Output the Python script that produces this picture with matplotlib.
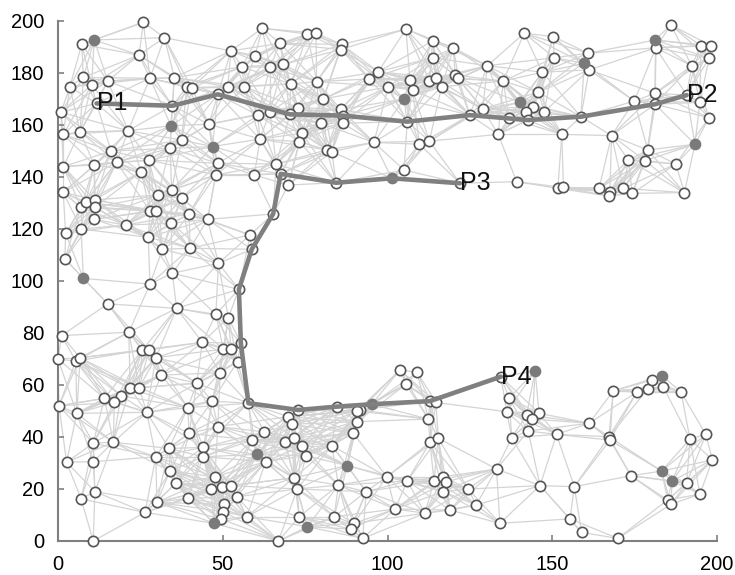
import numpy as np
import matplotlib.pyplot as plt
from matplotlib.collections import LineCollection

plt.rcParams['font.family'] = ['Liberation Sans', 'DejaVu Sans']

# ordinary sensor nodes (x, y)
nodes = [
    (25.9,199.5),(7.2,191.0),(32.3,193.6),(24.6,186.9),(7.7,178.3),(3.6,174.7),(10.2,175.4),(15.1,176.9),
    (27.9,178.0),(35.3,178.2),(39.1,174.7),(40.6,174.3),(11.7,168.3),(34.7,167.4),(48.5,171.8),(51.5,174.7),
    (56.5,174.7),(52.5,188.5),(59.8,186.7),(62.0,197.2),(55.9,182.4),(0.9,164.9),(1.6,156.4),(6.7,157.4),
    (21.3,157.8),(45.8,160.3),(60.6,163.8),(37.5,154.2),(34.0,151.0),(16.1,150.0),(61.3,154.6),
    (75.7,195.0),(78.3,195.3),(67.4,191.4),(86.1,191.0),(85.8,189.0),(105.6,196.9),(113.7,192.3),(120.0,189.7),
    (113.7,185.9),(130.3,182.8),(64.3,182.2),(68.4,183.3),(70.6,175.8),(78.5,176.7),(80.5,170.0),(97.2,180.5),
    (94.5,177.7),(100.2,174.7),(106.8,177.3),(107.6,173.5),(112.7,176.9),(114.7,178.2),(116.4,174.7),(120.5,179.2),
    (121.5,178.0),(128.9,166.2),(125.0,163.8),(72.9,166.7),(64.3,165.1),(70.4,164.1),(85.8,166.0),(86.4,163.6),
    (86.4,160.7),(79.7,160.7),(106.0,161.3),(74.0,156.8),(73.2,153.6),(95.9,153.3),(109.7,152.6),(112.7,153.8),
    (81.5,150.4),(83.1,149.7),
    (141.5,195.3),(150.3,194.0),(186.0,198.5),(181.4,189.7),(195.1,190.5),(198.2,190.5),(197.6,185.7),(192.3,182.8),
    (150.6,185.9),(160.9,187.6),(161.2,181.2),(135.1,176.9),(147.0,180.3),(145.8,172.6),(144.3,167.0),(141.9,165.1),
    (147.6,165.1),(136.9,162.6),(142.7,161.9),(158.7,163.2),(174.9,169.2),(181.2,172.2),(181.2,168.0),(190.8,171.5),
    (194.8,168.7),(197.6,162.8),(133.6,156.4),(152.9,156.4),(168.0,155.9),(179.0,150.4),
    (1.6,144.0),(11.0,144.6),(17.8,145.7),(27.6,146.5),(25.2,142.0),(48.5,145.3),(47.9,140.8),(59.6,140.8),
    (1.6,134.1),(7.0,128.3),(8.4,130.3),(11.2,131.2),(11.2,128.3),(11.0,123.7),(30.3,133.1),(34.5,135.0),
    (37.5,131.8),(27.9,127.0),(29.6,127.0),(39.8,125.8),(34.3,122.2),(45.4,123.7),(20.5,121.5),(2.3,118.3),
    (7.0,120.0),(27.4,116.8),(31.7,112.2),(40.1,112.6),(2.1,108.5),(48.7,106.8),(58.3,117.7),(58.8,112.2),
    (34.7,103.0),(27.9,98.8),(54.9,96.8),
    (66.2,145.0),(67.6,141.2),(69.9,136.9),(84.4,137.8),(105.0,142.7),(122.0,137.6),(65.3,125.8),
    (139.2,138.2),(151.7,135.6),(153.4,136.0),(164.2,135.6),(167.5,134.3),(167.2,132.7),(171.6,135.6),(174.3,133.7),
    (190.1,134.0),(173.1,146.5),(178.2,146.3),(187.5,145.0),
    (15.1,91.2),(36.0,89.5),(47.9,87.2),(51.7,85.9),(1.1,79.0),(21.5,80.3),(43.8,76.4),(55.5,76.0),
    (50.2,73.8),(52.5,73.8),(54.5,69.0),(0.0,70.0),(5.4,69.2),(6.7,70.5),(25.6,73.5),(27.6,73.5),
    (29.7,70.5),(31.3,63.8),(49.2,64.7),(42.1,60.7),(21.9,58.7),(24.6,59.0),(19.1,55.9),(14.1,54.9),
    (17.1,53.3),(46.8,53.8),(57.8,53.0),(0.3,52.0),(5.7,49.1),(26.9,49.5),(39.4,51.3),
    (103.8,65.8),(109.0,64.9),(105.6,60.3),(72.9,50.4),(84.8,51.7),(112.9,53.8),(114.7,53.3),(69.9,47.8),
    (91.7,50.4),(90.7,50.0),(70.9,44.9),(90.8,45.9),(112.4,46.9),
    (134.4,63.2),(136.9,54.9),(136.2,49.7),(142.2,48.5),(146.0,49.1),(144.0,46.9),(161.2,45.3),(168.5,57.7),
    (175.6,57.2),(179.0,58.5),(180.4,61.9),(183.7,59.3),(189.1,57.2),
    (10.7,37.6),(16.8,38.0),(2.6,30.3),(10.7,30.5),(11.2,19.0),(7.0,16.2),(10.7,0.0),(39.8,41.4),
    (48.5,44.0),(59.0,38.8),(62.6,42.0),(63.0,30.5),(33.7,35.6),(29.7,32.4),(44.1,36.0),(44.1,32.4),
    (34.0,26.9),(35.7,22.2),(47.6,24.7),(46.4,20.0),(49.9,20.9),(52.5,21.3),(54.2,17.0),(39.5,16.4),
    (30.0,14.9),(26.4,11.0),(50.5,14.1),(50.2,11.3),(49.5,8.5),(57.3,9.3),
    (68.9,38.2),(71.6,39.7),(74.0,36.7),(75.3,32.8),(83.1,36.7),(89.6,41.4),(71.6,24.3),(72.6,20.0),
    (85.1,21.5),(93.5,19.0),(99.8,24.7),(106.0,23.1),(112.9,38.0),(115.4,39.5),(114.1,23.1),(116.9,24.7),
    (117.8,22.8),(116.9,19.0),(124.5,20.0),(126.9,13.8),(119.0,11.9),(111.4,10.7),(102.3,12.3),(73.2,9.3),
    (83.8,9.3),(89.8,6.8),(88.8,4.6),(92.5,1.0),(66.9,0.0),
    (137.7,39.7),(142.7,42.3),(151.3,41.0),(167.2,40.1),(167.5,38.8),(191.8,39.2),(196.6,41.0),(198.6,31.2),
    (133.1,27.7),(146.3,21.3),(156.7,20.9),(173.9,25.1),(190.8,22.2),(194.8,18.0),(185.0,15.8),(186.0,14.1),
    (134.1,6.8),(155.4,8.5),(158.9,3.3),(169.9,1.0),
]

# anchor nodes (filled)
anchors = [
    (11.0,192.7),(34.3,159.7),(46.9,151.7),(105.0,170.0),(159.7,183.7),(140.2,168.7),(181.2,192.7),
    (193.3,152.6),(7.7,101.0),(101.3,139.5),(95.2,52.6),(144.8,65.4),(183.4,63.6),(60.3,33.3),
    (47.4,6.8),(87.8,29.0),(75.7,5.5),(183.2,26.9),(186.4,23.1),
]

# routes
route_p1_p2 = [(11.7,168.3),(34.7,167.4),(48.5,171.8),(70.4,164.1),(86.4,163.6),(106.0,161.3),
               (125.0,163.8),(142.7,161.9),(158.7,163.2),(181.2,168.0),(190.8,171.5)]
route_p3_p4 = [(122.0,137.6),(101.3,139.5),(84.4,137.8),(67.6,141.2),(65.3,125.8),(58.8,112.2),
               (54.9,96.8),(55.5,76.0),(57.8,53.0),(72.9,50.4),(84.8,51.7),(95.2,52.6),
               (112.9,53.8),(134.4,63.2)]

label_names = ['P1', 'P2', 'P3', 'P4']
label_pos = [(11.7,168.3),(190.8,171.5),(122.0,137.6),(134.4,63.2)]

comm_range = 22.0

nodes = np.array(nodes)
anchors = np.array(anchors)
allpts = np.vstack([nodes, anchors])

# links between nodes in radio range
d = np.hypot(allpts[:, None, 0] - allpts[None, :, 0], allpts[:, None, 1] - allpts[None, :, 1])
ii, jj = np.where(np.triu(d < comm_range, k=1))
segs = [[allpts[i], allpts[j]] for i, j in zip(ii, jj)]

fig = plt.figure(figsize=(7.35, 5.75), dpi=100)
ax = fig.add_axes([58/735, 34/575, 659/735, 520/575])

ax.add_collection(LineCollection(segs, colors='#d4d4d4', linewidths=0.9, zorder=1))

ax.scatter(nodes[:, 0], nodes[:, 1], s=55, facecolor='white', edgecolor='#555555',
           linewidth=1.2, zorder=3, clip_on=False)
ax.scatter(anchors[:, 0], anchors[:, 1], s=55, facecolor='#7a7a7a', edgecolor='#7a7a7a',
           linewidth=1.0, zorder=3, clip_on=False)

for route in (route_p1_p2, route_p3_p4):
    r = np.array(route)
    ax.plot(r[:, 0], r[:, 1], color='#808080', lw=3.3, zorder=4, solid_capstyle='round')

for name, (x, y) in zip(label_names, label_pos):
    ax.text(x, y, name, fontsize=18, ha='left', va='center', color='#111111', zorder=5)

ax.set_xlim(0, 200)
ax.set_ylim(0, 200)
ax.set_xticks([0, 50, 100, 150, 200])
ax.set_yticks(range(0, 201, 20))
for s in ['top', 'right']:
    ax.spines[s].set_visible(False)
for s in ['left', 'bottom']:
    ax.spines[s].set_color('#808080')
    ax.spines[s].set_linewidth(1.5)
ax.tick_params(direction='in', length=4, width=1.2, color='#808080', labelsize=14.5, pad=10)

fig.savefig('out.png', dpi=100)
